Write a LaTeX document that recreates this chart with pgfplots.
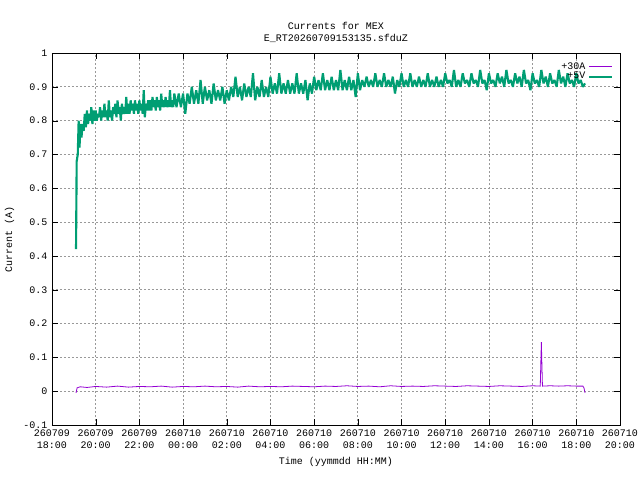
\documentclass[border=0pt]{standalone}
\usepackage{pgfplots}
\pgfplotsset{compat=1.18}
\usepackage{fontspec}
\setmainfont{Liberation Mono}
\setmonofont{Liberation Mono}
\definecolor{gpurple}{HTML}{9400D3}
\definecolor{ggreen}{HTML}{009E73}
\begin{document}
\begin{tikzpicture}
\useasboundingbox (-39pt,-41.25pt) rectangle (441pt,318.75pt);
\begin{axis}[
  scale only axis, width=426pt, height=279pt,
  xmin=0, xmax=26, ymin=-0.1, ymax=1,
  xtick={0,2,...,26},
  xticklabels={{260709\\18:00},{260709\\20:00},{260709\\22:00},{260710\\00:00},{260710\\02:00},{260710\\04:00},{260710\\06:00},{260710\\08:00},{260710\\10:00},{260710\\12:00},{260710\\14:00},{260710\\16:00},{260710\\18:00},{260710\\20:00}},
  xticklabel style={align=center},
  ytick={-0.1,0,...,1},
  yticklabel style={/pgf/number format/fixed},
  /pgf/number format/assume math mode=true,
  grid=major,
  grid style={gray!80, dash pattern=on 1.5pt off 1.5pt, line width=0.6pt},
  tick align=inside, tick style={black},
  axis line style={black, line width=0.6pt},
  font=\fontsize{7.5}{9}\selectfont,
  title={Currents for MEX\\E\_RT20260709153135.sfduZ},
  title style={align=center, yshift=-2pt},
  xlabel={Time (yymmdd HH:MM)},
  ylabel={Current (A)},
  legend style={at={(0.995,0.99)}, anchor=north east, draw=none, fill=none, font=\fontsize{7.5}{9}\selectfont, row sep=-3pt},
  legend plot pos=right,
  legend cell align=right,
]
\addplot[gpurple, line width=0.6pt] coordinates {
(1.10,-0.005)(1.15,0.010)(1.3,0.013)(1.6,0.011)(2.0,0.014)(2.5,0.012)(3.0,0.015)(3.5,0.012)(4.0,0.014)(4.5,0.013)(5.0,0.015)(5.5,0.012)(6.0,0.014)(6.5,0.013)(7.0,0.015)(7.5,0.013)(8.0,0.014)(8.5,0.012)(9.0,0.015)(9.5,0.013)(10.0,0.014)(10.5,0.013)(11.0,0.015)(11.5,0.014)(12.0,0.013)(12.5,0.015)(13.0,0.014)(13.5,0.016)(14.0,0.014)(14.5,0.015)(15.0,0.013)(15.5,0.016)(16.0,0.014)(16.5,0.015)(17.0,0.014)(17.5,0.016)(18.0,0.015)(18.5,0.014)(19.0,0.016)(19.5,0.015)(20.0,0.014)(20.5,0.016)(21.0,0.015)(21.5,0.014)(22.0,0.016)(22.35,0.015)(22.40,0.145)(22.45,0.015)(22.8,0.016)(23.2,0.015)(23.6,0.016)(24.0,0.015)(24.3,0.015)(24.35,0.010)(24.4,-0.005)
};
\addlegendentry{+30A}
\addplot[ggreen, line width=1.6pt, line join=bevel] coordinates {
(1.10,0.42)(1.13,0.68)(1.18,0.70)(1.22,0.80)(1.26,0.72)(1.30,0.79)(1.35,0.75)(1.40,0.79)(1.45,0.77)(1.50,0.82)(1.55,0.78)(1.60,0.83)(1.65,0.79)(1.70,0.82)(1.75,0.80)(1.80,0.84)(1.85,0.79)(1.90,0.83)(1.95,0.80)(2.00,0.83)(2.05,0.80)(2.10,0.82)(2.15,0.81)(2.20,0.84)(2.25,0.80)(2.30,0.83)(2.35,0.81)(2.40,0.85)(2.45,0.81)(2.50,0.83)(2.55,0.80)(2.60,0.86)(2.65,0.81)(2.70,0.83)(2.75,0.80)(2.80,0.84)(2.85,0.82)(2.90,0.85)(2.95,0.81)(3.00,0.86)(3.05,0.82)(3.10,0.84)(3.15,0.80)(3.20,0.85)(3.25,0.82)(3.30,0.84)(3.35,0.82)(3.40,0.87)(3.45,0.82)(3.50,0.85)(3.55,0.82)(3.60,0.86)(3.65,0.83)(3.70,0.85)(3.75,0.82)(3.80,0.86)(3.85,0.83)(3.90,0.85)(3.95,0.82)(4.00,0.86)(4.05,0.83)(4.10,0.85)(4.15,0.82)(4.20,0.89)(4.25,0.81)(4.30,0.85)(4.35,0.83)(4.40,0.86)(4.45,0.83)(4.50,0.86)(4.55,0.83)(4.60,0.87)(4.65,0.84)(4.70,0.86)(4.75,0.83)(4.80,0.87)(4.85,0.84)(4.90,0.86)(4.95,0.83)(5.00,0.88)(5.05,0.84)(5.10,0.86)(5.15,0.84)(5.20,0.87)(5.25,0.84)(5.30,0.86)(5.35,0.84)(5.40,0.89)(5.45,0.84)(5.50,0.86)(5.55,0.84)(5.60,0.88)(5.70,0.84)(5.80,0.88)(5.90,0.84)(6.00,0.88)(6.10,0.82)(6.20,0.88)(6.30,0.85)(6.40,0.90)(6.50,0.85)(6.60,0.89)(6.70,0.85)(6.80,0.92)(6.90,0.85)(7.00,0.90)(7.10,0.86)(7.20,0.89)(7.30,0.85)(7.40,0.91)(7.50,0.86)(7.60,0.89)(7.70,0.86)(7.80,0.90)(7.90,0.85)(8.00,0.89)(8.10,0.86)(8.20,0.90)(8.30,0.87)(8.40,0.93)(8.50,0.87)(8.60,0.90)(8.70,0.86)(8.80,0.91)(8.90,0.87)(9.00,0.90)(9.10,0.87)(9.20,0.94)(9.30,0.86)(9.40,0.90)(9.50,0.87)(9.60,0.92)(9.70,0.87)(9.80,0.90)(9.90,0.87)(10.00,0.93)(10.10,0.88)(10.20,0.91)(10.30,0.88)(10.40,0.94)(10.50,0.88)(10.60,0.91)(10.70,0.88)(10.80,0.92)(10.90,0.88)(11.00,0.91)(11.10,0.88)(11.20,0.94)(11.30,0.88)(11.40,0.91)(11.50,0.88)(11.60,0.92)(11.70,0.86)(11.80,0.91)(11.90,0.88)(12.00,0.93)(12.10,0.89)(12.20,0.92)(12.30,0.89)(12.40,0.94)(12.50,0.89)(12.60,0.92)(12.70,0.89)(12.80,0.93)(12.90,0.89)(13.00,0.92)(13.10,0.89)(13.20,0.95)(13.30,0.89)(13.40,0.92)(13.50,0.89)(13.60,0.93)(13.70,0.89)(13.80,0.92)(13.90,0.87)(14.00,0.94)(14.10,0.89)(14.20,0.92)(14.30,0.90)(14.40,0.93)(14.50,0.90)(14.60,0.92)(14.70,0.90)(14.80,0.94)(14.90,0.90)(15.00,0.92)(15.10,0.90)(15.20,0.94)(15.30,0.90)(15.40,0.92)(15.50,0.90)(15.60,0.93)(15.70,0.88)(15.80,0.92)(15.90,0.90)(16.00,0.94)(16.10,0.90)(16.20,0.92)(16.30,0.90)(16.40,0.94)(16.50,0.90)(16.60,0.92)(16.70,0.90)(16.80,0.93)(16.90,0.90)(17.00,0.92)(17.10,0.90)(17.20,0.94)(17.30,0.90)(17.40,0.92)(17.50,0.90)(17.60,0.93)(17.70,0.90)(17.80,0.92)(17.90,0.90)(18.00,0.94)(18.10,0.91)(18.20,0.92)(18.30,0.90)(18.40,0.95)(18.50,0.90)(18.60,0.92)(18.70,0.90)(18.80,0.94)(18.90,0.91)(19.00,0.92)(19.10,0.90)(19.20,0.94)(19.30,0.91)(19.40,0.92)(19.50,0.90)(19.60,0.95)(19.70,0.91)(19.80,0.92)(19.90,0.89)(20.00,0.94)(20.10,0.91)(20.20,0.92)(20.30,0.90)(20.40,0.94)(20.50,0.91)(20.60,0.93)(20.70,0.90)(20.80,0.95)(20.90,0.91)(21.00,0.92)(21.10,0.90)(21.20,0.94)(21.30,0.91)(21.40,0.93)(21.50,0.90)(21.60,0.95)(21.70,0.91)(21.80,0.92)(21.90,0.89)(22.00,0.94)(22.10,0.91)(22.20,0.92)(22.30,0.90)(22.40,0.95)(22.50,0.91)(22.60,0.93)(22.70,0.90)(22.80,0.94)(22.90,0.91)(23.00,0.92)(23.10,0.90)(23.20,0.95)(23.30,0.91)(23.40,0.93)(23.50,0.90)(23.60,0.94)(23.70,0.91)(23.80,0.92)(23.90,0.90)(24.00,0.94)(24.10,0.91)(24.20,0.92)(24.30,0.90)(24.40,0.91)
};
\addlegendentry{+5V}
\end{axis}
\end{tikzpicture}
\end{document}
